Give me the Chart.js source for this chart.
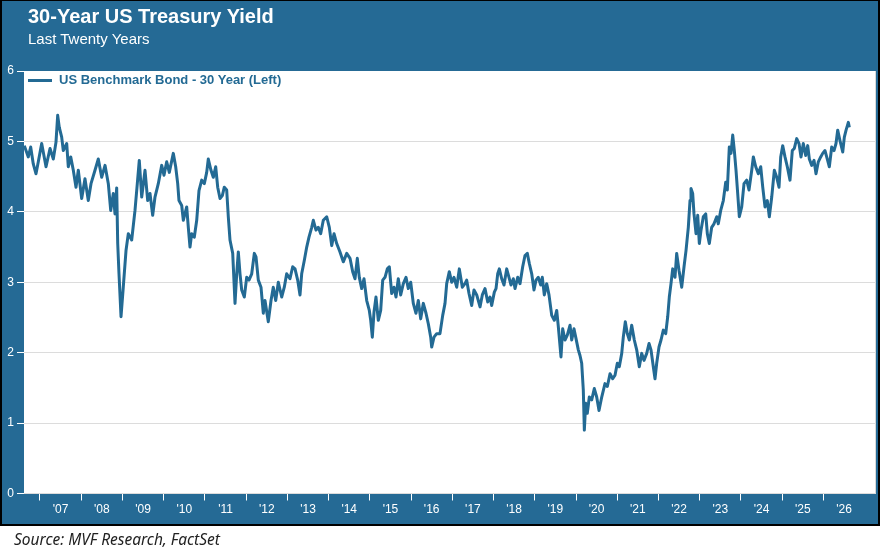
<!DOCTYPE html>
<html><head><meta charset="utf-8">
<script src="https://cdn.jsdelivr.net/npm/chart.js@4/dist/chart.umd.min.js"></script>
<style>
html,body{margin:0;padding:0;background:#fff;}
#wrap{position:relative;width:881px;height:552px;overflow:hidden;}
#frame{position:absolute;left:0;top:0;width:880px;height:526px;box-sizing:border-box;background:#256a95;border:2px solid #000;border-top-width:1px;}
#c{position:absolute;left:0;top:0;}
.t{position:absolute;white-space:nowrap;font-family:"Liberation Sans",Arial,sans-serif;}
#title{left:28px;top:6px;font-size:20px;line-height:20px;font-weight:bold;color:#fff;}
#sub{left:28px;top:31px;font-size:15px;line-height:15px;color:#fff;}
#legsw{position:absolute;left:28px;top:79px;width:24px;height:3px;background:#236a94;}
#legend{left:59px;top:73px;font-size:13px;line-height:13px;font-weight:bold;color:#236a94;}
#source{left:14px;top:532px;font-family:"Noto Sans",sans-serif;font-style:italic;font-size:15.5px;line-height:15.5px;color:#222;}
</style></head>
<body>
<div id="wrap">
  <div id="frame"></div>
  <canvas id="c" width="881" height="552"></canvas>
  <div class="t" id="title">30-Year US Treasury Yield</div>
  <div class="t" id="sub">Last Twenty Years</div>
  <div id="legsw"></div>
  <div class="t" id="legend"></div>
  <div class="t" id="source">Source: MVF Research, FactSet</div>
</div>
<script>
const seriesLabel = "US Benchmark Bond - 30 Year (Left)";

// decimal-year dates
const dates = [
 2006.62,2006.716,2006.774,2006.837,2006.903,2006.959,2007.041,2007.146,2007.243,2007.323,2007.388,2007.429,2007.468,2007.526,2007.565,2007.648,2007.686,2007.745,2007.808,2007.873,2007.929,2008.011,2008.091,2008.171,2008.237,2008.334,2008.414,2008.496,2008.577,2008.657,2008.715,2008.778,2008.819,2008.860,2008.885,2008.916,2008.965,2009.020,2009.086,2009.142,2009.224,2009.304,2009.360,2009.408,2009.467,2009.547,2009.612,2009.668,2009.733,2009.789,2009.869,2009.952,2010.007,2010.073,2010.136,
 2010.233,2010.291,2010.340,2010.371,2010.437,2010.476,2010.558,2010.597,2010.638,2010.679,2010.742,2010.801,2010.856,2010.922,2010.985,2011.043,2011.082,2011.147,2011.203,2011.261,2011.310,2011.366,2011.422,2011.470,2011.528,2011.567,2011.608,2011.674,2011.730,2011.771,2011.810,2011.851,2011.892,2011.955,2012.013,2012.069,2012.135,2012.198,2012.239,2012.295,2012.360,2012.416,2012.457,2012.537,2012.603,2012.658,2012.717,2012.780,2012.862,2012.925,2012.983,2013.063,2013.129,2013.185,2013.250,2013.306,2013.347,2013.410,2013.469,2013.524,2013.590,
 2013.629,2013.694,2013.750,2013.808,2013.871,2013.954,2014.017,2014.075,2014.131,2014.196,2014.276,2014.356,2014.439,2014.519,2014.584,2014.640,2014.696,2014.744,2014.802,2014.858,2014.924,2014.987,2015.021,2015.060,2015.101,2015.149,2015.205,2015.263,2015.312,2015.368,2015.424,2015.472,2015.530,2015.586,2015.634,2015.690,2015.748,2015.812,2015.877,2015.933,2015.991,2016.054,2016.119,2016.175,2016.233,2016.297,2016.362,2016.418,2016.476,2016.500,2016.556,2016.621,2016.701,2016.767,2016.823,2016.864,2016.927,2016.985,2017.041,2017.107,2017.170,
 2017.243,2017.308,2017.349,2017.405,2017.470,2017.526,2017.592,2017.672,2017.728,2017.793,2017.859,2017.914,2017.955,2018.019,2018.060,2018.101,2018.140,2018.198,2018.254,2018.319,2018.375,2018.424,2018.480,2018.521,2018.586,2018.642,2018.707,2018.763,2018.819,2018.867,2018.926,2018.981,2019.030,2019.086,2019.144,2019.183,2019.231,2019.289,2019.345,2019.411,2019.474,2019.532,2019.571,2019.636,2019.677,2019.733,2019.789,2019.855,2019.896,2019.951,2019.993,2020.056,2020.097,2020.138,2020.177,2020.202,2020.235,2020.274,2020.323,2020.381,2020.444,2020.502,2020.558,2020.624,
 2020.703,2020.760,2020.825,2020.890,2020.946,2021.002,2021.050,2021.109,2021.147,2021.196,2021.244,2021.293,2021.351,2021.414,2021.472,2021.535,2021.594,2021.649,2021.715,2021.771,2021.819,2021.875,2021.916,2021.957,2022.013,2022.062,2022.118,2022.176,2022.224,2022.263,2022.304,2022.345,2022.401,2022.442,2022.498,2022.564,2022.620,2022.668,2022.724,2022.765,2022.789,2022.830,2022.862,2022.911,2022.952,2022.991,2023.032,2023.088,2023.146,2023.185,2023.233,2023.291,2023.347,2023.413,2023.451,2023.510,2023.573,2023.631,2023.670,2023.718,2023.759,2023.801,2023.840,2023.881,2023.922,2023.961,
 2024.019,2024.075,2024.140,2024.196,2024.262,2024.301,2024.359,2024.422,2024.480,2024.529,2024.584,2024.640,2024.689,2024.747,2024.810,2024.868,2024.924,2024.965,2025.013,2025.069,2025.125,2025.190,2025.246,2025.295,2025.353,2025.409,2025.457,2025.513,2025.571,2025.620,2025.659,2025.717,2025.773,2025.821,2025.877,2025.935,2025.983,2026.039,2026.095,2026.144,2026.202,2026.258,2026.306,2026.347,2026.403,2026.469,2026.508,2026.550,2026.605,2026.629
];

// yield, percent
const yields = [
 4.94,4.78,4.92,4.68,4.54,4.71,4.97,4.64,4.90,4.75,4.99,5.37,5.20,5.06,4.87,4.97,4.64,4.78,4.59,4.35,4.59,4.19,4.47,4.16,4.40,4.59,4.75,4.49,4.66,4.40,4.02,4.26,3.97,4.34,3.55,3.12,2.51,2.93,3.45,3.69,3.60,4.02,4.40,4.73,4.21,4.59,4.16,4.26,3.95,4.21,4.40,4.66,4.52,4.71,4.56,
 4.83,4.64,4.40,4.16,4.09,3.88,4.07,3.78,3.50,3.69,3.64,3.88,4.30,4.45,4.40,4.56,4.75,4.59,4.49,4.64,4.35,4.19,4.23,4.35,4.31,3.93,3.60,3.41,2.70,3.12,3.43,3.12,2.89,2.79,3.07,3.03,3.12,3.41,3.36,3.03,2.93,2.56,2.74,2.44,2.74,2.93,2.74,3.00,2.79,2.93,3.12,3.05,3.22,3.19,3.03,2.82,3.12,3.31,3.50,3.64,3.78,
 3.88,3.74,3.78,3.69,3.88,3.93,3.78,3.52,3.69,3.55,3.43,3.29,3.41,3.34,3.15,3.05,3.34,3.07,2.91,3.05,2.74,2.60,2.46,2.22,2.58,2.79,2.46,2.60,3.03,3.07,3.19,3.22,2.84,2.93,2.79,3.05,2.82,2.98,3.07,2.91,3.00,2.70,2.56,2.74,2.48,2.70,2.56,2.41,2.22,2.08,2.22,2.27,2.27,2.53,2.70,2.98,3.15,3.00,3.07,2.93,3.19,
 2.93,2.98,3.03,2.84,2.67,2.89,2.82,2.65,2.82,2.91,2.72,2.79,2.67,2.86,2.91,3.12,3.19,3.05,2.96,3.19,3.07,2.96,3.05,2.91,3.07,2.98,3.22,3.38,3.41,3.27,3.12,2.89,3.03,3.07,2.96,3.07,2.82,2.98,2.82,2.53,2.46,2.60,2.37,1.94,2.34,2.18,2.25,2.39,2.18,2.34,2.22,2.04,1.96,1.85,1.47,0.90,1.28,1.14,1.37,1.33,1.49,1.37,1.18,1.37,
 1.56,1.52,1.70,1.63,1.68,1.85,1.80,1.99,2.22,2.44,2.27,2.18,2.39,2.18,2.04,1.80,1.99,1.89,1.99,2.13,2.04,1.80,1.63,1.85,2.08,2.18,2.32,2.27,2.51,2.79,2.98,3.19,3.07,3.41,3.17,2.93,3.22,3.45,3.78,4.16,4.33,4.26,3.97,3.69,3.95,3.55,3.74,3.93,3.97,3.69,3.55,3.78,3.83,3.93,3.83,4.02,4.16,4.42,4.31,4.92,4.83,5.09,4.87,4.59,4.26,3.93,
 4.07,4.40,4.45,4.31,4.59,4.78,4.64,4.54,4.64,4.35,4.07,4.16,3.93,4.21,4.59,4.49,4.35,4.78,4.94,4.78,4.64,4.45,4.87,4.90,5.04,4.97,4.78,4.97,4.80,4.94,4.75,4.66,4.73,4.54,4.71,4.78,4.83,4.87,4.75,4.64,4.92,4.87,4.97,5.16,5.01,4.85,5.06,5.16,5.27,5.20
];

const yearTicks = [2007,2008,2009,2010,2011,2012,2013,2014,2015,2016,2017,2018,2019,2020,2021,2022,2023,2024,2025,2026];
const yTicks = [0,1,2,3,4,5,6];

document.getElementById('legend').textContent = seriesLabel;

const points = dates.map((d, i) => ({x: d, y: yields[i]}));
const LINE = '#236a94';
const FONT = {family: '"Liberation Sans", Arial, sans-serif', size: 12};

const bgPlugin = {
  id: 'plotbg',
  beforeDraw(chart) {
    const {ctx, chartArea: a} = chart;
    ctx.save();
    ctx.fillStyle = '#fff';
    ctx.fillRect(a.left, a.top, a.right - a.left, a.bottom - a.top);
    ctx.strokeStyle = '#d9d9d9';
    ctx.lineWidth = 1;
    ctx.beginPath();
    ctx.moveTo(a.right - 0.5, a.top);
    ctx.lineTo(a.right - 0.5, a.bottom);
    ctx.stroke();
    ctx.restore();
  }
};

new Chart(document.getElementById('c'), {
  type: 'line',
  data: {datasets: [{
    label: seriesLabel, data: points, borderColor: LINE, backgroundColor: LINE,
    borderWidth: 3, pointRadius: 0, tension: 0, borderJoinStyle: 'round', fill: false
  }]},
  options: {
    responsive: false, animation: false,
    layout: {padding: {left: 0, top: 71, right: 5, bottom: 28}},
    plugins: {legend: {display: false}, tooltip: {enabled: false}, title: {display: false}},
    scales: {
      x: {
        type: 'linear', min: 2006.612, max: 2027.276,
        afterBuildTicks(s) { s.ticks = yearTicks.map(v => ({value: v})); },
        afterFit(s) { s.height = 30.5; },
        grid: {drawOnChartArea: false, tickLength: 7, tickColor: '#fff', tickWidth: 1},
        border: {display: false},
        ticks: {
          color: '#fff', font: FONT, maxRotation: 0, minRotation: 0, autoSkip: false,
          labelOffset: 20.6, padding: 2,
          callback: v => "'" + String(v).slice(2)
        }
      },
      y: {
        min: 0, max: 6,
        afterBuildTicks(s) { s.ticks = yTicks.map(v => ({value: v})); },
        afterFit(s) { s.width = 24; },
        grid: {
          color: c => (c.tick && c.tick.value === 6) ? 'rgba(0,0,0,0)' : '#dcdcdc',
          tickColor: '#fff', tickLength: 7, lineWidth: 1
        },
        border: {display: false},
        ticks: {color: '#fff', font: FONT, padding: 3}
      }
    }
  },
  plugins: [bgPlugin]
});
</script>
</body></html>
